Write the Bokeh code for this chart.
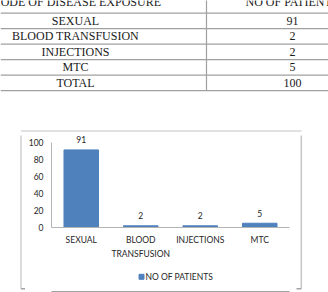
from bokeh.plotting import figure
from bokeh.models import ColumnDataSource, FixedTicker, LinearAxis
from bokeh.layouts import column, row
from bokeh.core.properties import value
from bokeh.embed import file_html
from bokeh.resources import INLINE

# data
exposure = ["SEXUAL", "BLOOD TRANSFUSION", "INJECTIONS", "MTC"]
patients = [91, 2, 2, 5]
# how each category name is split over the two label rows
label_line1 = ["SEXUAL", "BLOOD", "INJECTIONS", "MTC"]
label_line2 = ["", "TRANSFUSION", "", ""]
y_ticks = [0, 20, 40, 60, 80, 100]
header = ["MODE OF DISEASE EXPOSURE", "NO OF PATIENTS"]
total_name = "TOTAL"
series_name = "NO OF PATIENTS"

BAR = "#4F81BD"
TXT = "#262626"
AXIS = "#b4b4b4"
FRAME = "#c4c4c4"
FRAME_DARK = "#a4a4a4"
lato = "Lato"


def blank(w, h):
    """A bare drawing surface measured in pixels, y growing downwards."""
    f = figure(width=w, height=h, x_range=(0, w), y_range=(h, 0), min_border=0,
               toolbar_location=None, output_backend="svg")
    f.axis.visible = False
    f.grid.visible = False
    f.outline_line_color = None
    return f


# ---- table above the chart (it also carries the chart frame's top edge) ----
t = blank(328, 135)
row_top, row_h = 12.7, 15.5
names = exposure + [total_name]
vals = [str(v) for v in patients] + [str(sum(patients))]
n_rows = len(names)
line_y = [row_top + i * row_h for i in range(n_rows + 1)]
t.segment(x0=[0] * len(line_y), x1=[328] * len(line_y), y0=line_y, y1=line_y,
          line_color="#a0a0a0", line_width=1.2)
t.segment(x0=[206], x1=[206], y0=[-2], y1=[line_y[-1]], line_color="#a0a0a0", line_width=1.2)
t.segment(x0=[20.5], x1=[301], y0=[130.5], y1=[130.5], line_color=FRAME, line_width=1.2)

mid_y = [row_top + (i + 0.5) * row_h for i in range(n_rows)]
serif = value("Liberation Serif")
t.text(x=[75] * n_rows, y=mid_y, text=names, text_font=serif, text_font_size="12px",
       text_align="center", text_baseline="middle", text_color="#1a1a1a")
t.text(x=[292] * n_rows, y=mid_y, text=vals, text_font=serif, text_font_size="12px",
       text_align="center", text_baseline="middle", text_color="#1a1a1a")
t.text(x=[75, 245], y=[1.5, 1.5], text=header, text_font=serif, text_font_size="12px",
       text_align=["center", "left"], text_baseline="alphabetic", text_color="#1a1a1a")

# ---- bar chart (categories placed at 1..n on a numeric axis) ----
pos = list(range(1, len(exposure) + 1))
src = ColumnDataSource(dict(x=pos, n=patients, lab=[str(v) for v in patients]))
c = figure(frame_width=238, frame_height=92, x_range=(0.5, len(exposure) + 0.5),
           y_range=(0, 107.9),
           min_border_left=26, min_border_right=7, min_border_top=0, min_border_bottom=31,
           toolbar_location=None, output_backend="svg")
c.outline_line_color = None
c.grid.visible = False

bars = c.vbar(x="x", top="n", width=0.58, source=src, fill_color=BAR, line_color=BAR)
c.text(x="x", y="n", text="lab", source=src, text_font=value(lato), text_font_size="8.5px",
       text_align="center", text_baseline="middle", y_offset=-10, text_color=TXT)

ax2 = LinearAxis(axis_line_color=None)
for ax in (c.xaxis[0], c.yaxis[0], ax2):
    if ax is not ax2:
        ax.axis_line_color = AXIS
    ax.major_tick_line_color = None
    ax.minor_tick_line_color = None
    ax.major_tick_out = 0
    ax.major_tick_in = 0
    ax.minor_tick_out = 0
    ax.major_label_text_font = lato
    ax.major_label_text_font_size = "8.5px"
    ax.major_label_text_color = TXT
    ax.major_label_standoff = 8
c.xaxis[0].major_label_standoff = 7
ax2.major_label_standoff = 1
c.yaxis.ticker = FixedTicker(ticks=y_ticks)
c.yaxis.bounds = (0, 100)
c.xaxis[0].ticker = FixedTicker(ticks=pos)
c.xaxis[0].major_label_overrides = dict(zip(pos, label_line1))
ax2.ticker = FixedTicker(ticks=[p for p, s in zip(pos, label_line2) if s])
ax2.major_label_overrides = {p: s for p, s in zip(pos, label_line2) if s}
c.add_layout(ax2, "below")

# ---- legend strip under the chart, with the frame's bottom edge ----
key = blank(271, 34)
key.scatter(x=[102.5], y=[15.3], marker="square", size=5, fill_color=BAR, line_color=BAR)
key.text(x=[107], y=[15.3], text=[series_name], text_font=value(lato), text_font_size="8.5px",
         text_align="left", text_baseline="middle", text_color=TXT)
key.segment(x0=[-1], x1=[272], y0=[30.3], y1=[30.3], line_color=FRAME_DARK, line_width=1.5)

# ---- side edges of the chart frame ----
left = blank(25, 157)
left.segment(x0=[20.5], x1=[20.5], y0=[-1], y1=[153.3], line_color=FRAME, line_width=1.2)
left.segment(x0=[20.5], x1=[26], y0=[153.3], y1=[153.3], line_color=FRAME_DARK, line_width=1.5)
right = blank(32, 157)
right.segment(x0=[4.8], x1=[4.8], y0=[-1], y1=[153.3], line_color=FRAME, line_width=1.5)
right.segment(x0=[-1], x1=[4.8], y0=[153.3], y1=[153.3], line_color=FRAME_DARK, line_width=1.5)

layout = column(t, row(left, column(c, key), right))
open("out.html", "w").write(file_html(layout, INLINE))
